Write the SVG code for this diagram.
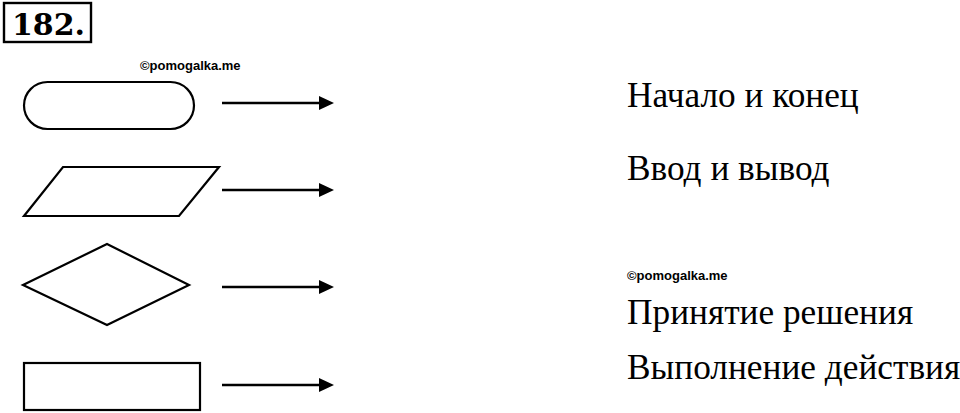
<svg xmlns="http://www.w3.org/2000/svg" width="960" height="413" viewBox="0 0 960 413">
<style>
.shape{fill:#fff;stroke:#000;stroke-width:2.2}
.conn{stroke:#000;stroke-width:2.6;fill:none}
.lbl{font-family:"Liberation Serif","Times New Roman",serif;font-size:35.3px;fill:#000}
.wm{font-family:"Liberation Sans",Arial,sans-serif;font-size:13px;font-weight:bold;fill:#000}
</style>
<defs>
<marker id="ah" markerUnits="userSpaceOnUse" markerWidth="16" markerHeight="16" refX="0" refY="7" orient="auto" viewBox="0 0 16 14">
<path d="M0,0 L15,7 L0,14 Z" fill="#000"/>
</marker>
</defs>
<rect width="960" height="413" fill="#fff"/>
<g id="title">
<rect x="4" y="3" width="87" height="39" fill="none" stroke="#000" stroke-width="2.4"/>
<text x="12" y="35" font-family="'DejaVu Serif','Liberation Serif',serif" font-weight="bold" font-size="30px">182.</text>
</g>
<text class="wm" x="140" y="70">©pomogalka.me</text>
<text class="wm" x="627" y="280">©pomogalka.me</text>
<g id="terminal"><rect class="shape" x="24" y="82" width="170" height="47" rx="23.5" ry="23.5"/></g>
<g id="io"><polygon class="shape" points="63,167 219,167 179,216 24,216"/></g>
<g id="decision"><polygon class="shape" points="107,244 189,285 107,325 23,285"/></g>
<g id="process"><rect class="shape" x="24" y="363" width="176" height="47"/></g>
<g id="connectors">
<line class="conn" x1="222" y1="103" x2="319" y2="103" marker-end="url(#ah)"/>
<line class="conn" x1="222" y1="190" x2="319" y2="190" marker-end="url(#ah)"/>
<line class="conn" x1="222" y1="287" x2="319" y2="287" marker-end="url(#ah)"/>
<line class="conn" x1="222" y1="385" x2="319" y2="385" marker-end="url(#ah)"/>
</g>
<g id="labels">
<text class="lbl" x="627" y="107">Начало и конец</text>
<text class="lbl" x="627" y="180">Ввод и вывод</text>
<text class="lbl" x="627" y="324">Принятие решения</text>
<text class="lbl" x="627" y="379">Выполнение действия</text>
</g>
</svg>
